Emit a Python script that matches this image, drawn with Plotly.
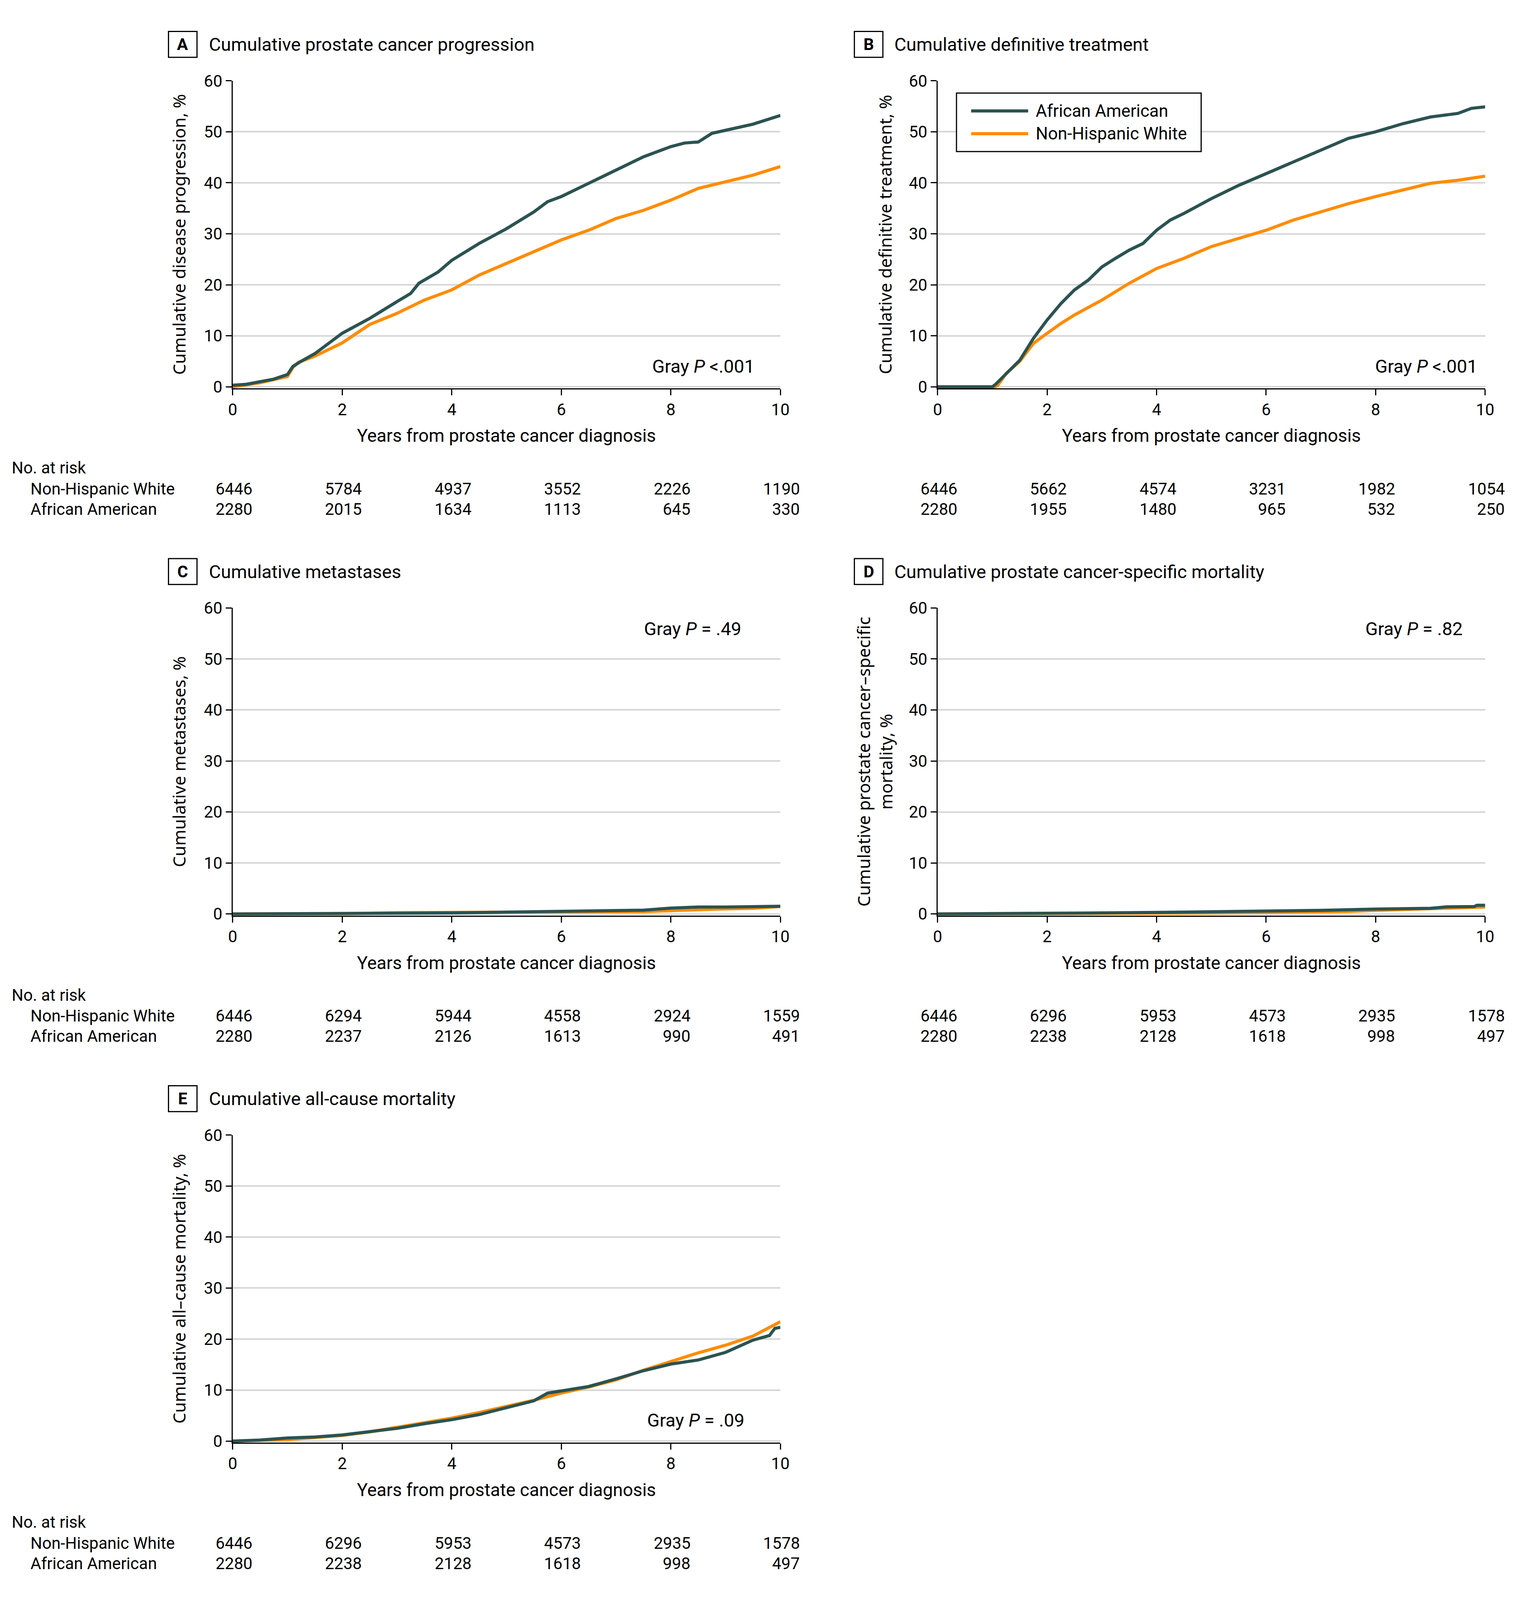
import plotly.graph_objects as go

# layout positions below are measured on the 3892 x 4500 reference;
# the figure itself is sized to fit the visible page area
REF_W, REF_H = 3892, 4500
FIG_W, FIG_H = 3876, 4080

years = [0, 2, 4, 6, 8, 10]
aa_name = "African American"
nhw_name = "Non-Hispanic White"
aa_color = "#2b5351"
nhw_color = "#ff8c00"

# A - cumulative prostate cancer progression
a_aa_t = [0, 0.25, 0.5, 0.75, 1.0, 1.1, 1.25, 1.5, 2, 2.5, 3, 3.25, 3.4, 3.75, 4, 4.25, 4.5, 5, 5.5, 5.75, 6, 6.5, 7, 7.5, 8, 8.25, 8.5, 8.75, 9, 9.5, 10]
a_aa_v = [0.3, 0.5, 1.0, 1.5, 2.4, 4.0, 5.0, 6.5, 10.5, 13.4, 16.7, 18.3, 20.3, 22.5, 24.8, 26.5, 28.1, 31.0, 34.3, 36.3, 37.3, 39.9, 42.5, 45.1, 47.1, 47.8, 48.0, 49.7, 50.3, 51.5, 53.2]
a_nhw_t = [0, 0.5, 1.0, 1.1, 1.2, 1.5, 2, 2.5, 3, 3.5, 4, 4.5, 5, 5.5, 6, 6.5, 7, 7.5, 8, 8.5, 9, 9.5, 10]
a_nhw_v = [0, 0.8, 2.0, 3.8, 4.8, 6.0, 8.6, 12.2, 14.4, 17.0, 19.0, 21.9, 24.2, 26.5, 28.8, 30.7, 33.0, 34.6, 36.6, 38.9, 40.2, 41.5, 43.2]
a_risk_nhw = [6446, 5784, 4937, 3552, 2226, 1190]
a_risk_aa = [2280, 2015, 1634, 1113, 645, 330]

# B - cumulative definitive treatment
b_aa_t = [0, 1.0, 1.05, 1.25, 1.5, 1.75, 2, 2.25, 2.5, 2.75, 3, 3.25, 3.5, 3.75, 4, 4.25, 4.5, 5, 5.5, 6, 6.5, 7, 7.5, 8, 8.5, 9, 9.5, 9.75, 10]
b_aa_v = [0, 0, 0.4, 2.5, 5.2, 9.5, 13.1, 16.3, 19.0, 20.9, 23.5, 25.2, 26.8, 28.1, 30.7, 32.7, 34.0, 36.9, 39.5, 41.8, 44.1, 46.4, 48.7, 50.0, 51.6, 52.9, 53.6, 54.6, 54.9]
b_nhw_t = [0, 1.05, 1.1, 1.25, 1.5, 1.75, 2, 2.25, 2.5, 3, 3.5, 4, 4.5, 5, 5.5, 6, 6.5, 7, 7.5, 8, 8.5, 9, 9.5, 10]
b_nhw_v = [0, 0, 0.3, 2.6, 5.0, 8.5, 10.5, 12.4, 14.1, 17.0, 20.3, 23.2, 25.2, 27.5, 29.1, 30.7, 32.7, 34.3, 35.9, 37.3, 38.6, 39.9, 40.5, 41.3]
b_risk_nhw = [6446, 5662, 4574, 3231, 1982, 1054]
b_risk_aa = [2280, 1955, 1480, 965, 532, 250]

# C - cumulative metastases
c_aa_t = [0, 2, 3, 4, 5, 6, 7, 7.5, 8, 8.5, 9, 9.5, 10]
c_aa_v = [0, 0.07, 0.15, 0.2, 0.35, 0.5, 0.6, 0.75, 1.15, 1.35, 1.35, 1.5, 1.5]
c_nhw_t = [0, 2, 3, 4, 5, 6, 7, 7.5, 8, 8.5, 9, 9.5, 10]
c_nhw_v = [0, 0.05, 0.25, 0.3, 0.3, 0.35, 0.4, 0.45, 0.65, 0.9, 1.0, 1.1, 1.45]
c_risk_nhw = [6446, 6294, 5944, 4558, 2924, 1559]
c_risk_aa = [2280, 2237, 2126, 1613, 990, 491]

# D - cumulative prostate cancer-specific mortality
d_aa_t = [0, 1.5, 2, 3, 4, 5, 6, 7, 8, 9, 9.3, 9.8, 9.85, 10]
d_aa_v = [0, 0.05, 0.1, 0.2, 0.3, 0.4, 0.55, 0.7, 0.95, 1.1, 1.4, 1.45, 1.7, 1.7]
d_nhw_t = [0, 3, 4, 5, 6, 7, 7.5, 8, 9, 9.3, 10]
d_nhw_v = [0, 0.05, 0.1, 0.2, 0.3, 0.4, 0.5, 0.7, 1.0, 1.2, 1.35]
d_risk_nhw = [6446, 6296, 5953, 4573, 2935, 1578]
d_risk_aa = [2280, 2238, 2128, 1618, 998, 497]

# E - cumulative all-cause mortality
e_aa_t = [0, 0.5, 1, 1.5, 2, 2.5, 3, 3.5, 4, 4.5, 5, 5.5, 5.75, 6, 6.5, 7, 7.5, 8, 8.5, 9, 9.5, 9.8, 9.9, 10]
e_aa_v = [0, 0.2, 0.6, 0.8, 1.2, 1.9, 2.5, 3.4, 4.2, 5.2, 6.5, 7.9, 9.4, 9.8, 10.7, 12.2, 13.8, 15.1, 15.9, 17.4, 19.8, 20.7, 22.1, 22.3]
e_nhw_t = [0, 0.5, 1, 1.5, 2, 2.5, 3, 3.5, 4, 4.5, 5, 5.5, 6, 6.5, 7, 7.5, 8, 8.5, 9, 9.5, 10]
e_nhw_v = [0, 0.1, 0.3, 0.7, 1.1, 1.8, 2.7, 3.6, 4.5, 5.6, 6.8, 8.0, 9.4, 10.6, 12.0, 13.9, 15.6, 17.3, 18.8, 20.6, 23.4]
e_risk_nhw = [6446, 6296, 5953, 4573, 2935, 1578]
e_risk_aa = [2280, 2238, 2128, 1618, 998, 497]

panels = [
    dict(letter="A", title="Cumulative prostate cancer progression",
         ytitle="Cumulative disease progression, %", pval="Gray <i>P</i> <.001",
         px=9.54, py=4.0, aa=(a_aa_t, a_aa_v), nhw=(a_nhw_t, a_nhw_v),
         risk=(a_risk_nhw, a_risk_aa), col=0, row=0, ytx=444),
    dict(letter="B", title="Cumulative definitive treatment",
         ytitle="Cumulative definitive treatment, %", pval="Gray <i>P</i> <.001",
         px=9.87, py=4.0, aa=(b_aa_t, b_aa_v), nhw=(b_nhw_t, b_nhw_v),
         risk=(b_risk_nhw, b_risk_aa), col=1, row=0, ytx=2277),
    dict(letter="C", title="Cumulative metastases",
         ytitle="Cumulative metastases, %", pval="Gray <i>P</i> = .49",
         px=9.30, py=55.9, aa=(c_aa_t, c_aa_v), nhw=(c_nhw_t, c_nhw_v),
         risk=(c_risk_nhw, c_risk_aa), col=0, row=1, ytx=444),
    dict(letter="D", title="Cumulative prostate cancer-specific mortality",
         ytitle="Cumulative prostate cancer–specific<br>mortality, %", pval="Gray <i>P</i> = .82",
         px=9.6, py=55.9, aa=(d_aa_t, d_aa_v), nhw=(d_nhw_t, d_nhw_v),
         risk=(d_risk_nhw, d_risk_aa), col=1, row=1, ytx=2250),
    dict(letter="E", title="Cumulative all-cause mortality",
         ytitle="Cumulative all–cause mortality, %", pval="Gray <i>P</i> = .09",
         px=9.36, py=4.1, aa=(e_aa_t, e_aa_v), nhw=(e_nhw_t, e_nhw_v),
         risk=(e_risk_nhw, e_risk_aa), col=0, row=2, ytx=444),
]

FONT = "Roboto, Liberation Sans, sans-serif"
YFONT = "Noto Sans, DejaVu Sans, sans-serif"


def fx(x):
    return x / REF_W


def fy(y):
    return 1 - y / REF_H


col_x = [(583.5, 2005.0), (2413.0, 3834.0)]
box_x = [417, 2197]
title_x = [520, 2299]

fig = go.Figure()
shapes = []
annotations = []
layout = {}

for i, p in enumerate(panels):
    n = "" if i == 0 else str(i + 1)
    xa, ya = "x" + n, "y" + n
    x0, x1 = col_x[p["col"]]
    top = 195 + 1505 * p["row"]
    bottom = top + 878

    fig.add_trace(go.Scatter(x=p["nhw"][0], y=p["nhw"][1], mode="lines", name=nhw_name,
                             line=dict(color=nhw_color, width=8), xaxis=xa, yaxis=ya,
                             showlegend=False))
    fig.add_trace(go.Scatter(x=p["aa"][0], y=p["aa"][1], mode="lines", name=aa_name,
                             line=dict(color=aa_color, width=8), xaxis=xa, yaxis=ya,
                             showlegend=False))

    layout["xaxis" + n] = dict(
        domain=[fx(x0), fx(x1)], anchor=ya, range=[0, 10], tickvals=years,
        showline=True, linecolor="black", linewidth=3, ticks="outside",
        ticklen=15, tickwidth=3, tickcolor="black", showgrid=False, zeroline=False,
        tickfont=dict(size=42, family=FONT, color="black"), layer="below traces")
    layout["yaxis" + n] = dict(
        domain=[fy(bottom), fy(top)], anchor=xa, range=[-0.3, 60], dtick=10,
        showline=True, linecolor="black", linewidth=3, ticks="outside",
        ticklen=15, tickwidth=3, tickcolor="black", showgrid=True,
        gridcolor="#d6d6d6", gridwidth=4, zeroline=False,
        tickfont=dict(size=42, family=FONT, color="black"))

    # panel letter box and title
    bx = box_x[p["col"]]
    shapes.append(dict(type="rect", xref="paper", yref="paper",
                       x0=fx(bx), x1=fx(bx + 74), y0=fy(top - 67), y1=fy(top - 141),
                       line=dict(color="black", width=3)))
    annotations.append(dict(text="<b>" + p["letter"] + "</b>", xref="paper", yref="paper",
                            x=fx(bx + 37), y=fy(top - 104), xanchor="center", yanchor="middle",
                            showarrow=False, font=dict(size=42, family=FONT)))
    annotations.append(dict(text=p["title"], xref="paper", yref="paper",
                            x=fx(title_x[p["col"]]), y=fy(top - 104), xanchor="left",
                            yanchor="middle", showarrow=False, font=dict(size=47, family=FONT)))

    # y title
    annotations.append(dict(text=p["ytitle"], xref="paper", yref="paper",
                            x=fx(p["ytx"]), y=fy((top + bottom) / 2), textangle=-90,
                            xanchor="center", yanchor="middle", showarrow=False,
                            font=dict(size=44, family=YFONT)))
    # x title
    annotations.append(dict(text="Years from prostate cancer diagnosis", xref="paper", yref="paper",
                            x=fx((x0 + x1) / 2), y=fy(bottom + 135), xanchor="center",
                            yanchor="middle", showarrow=False, font=dict(size=46, family=FONT)))
    # p value
    annotations.append(dict(text=p["pval"], xref=xa, yref=ya, x=p["px"], y=p["py"],
                            xanchor="right", yanchor="middle", showarrow=False,
                            font=dict(size=47, family=FONT)))

    # number at risk
    if p["col"] == 0:
        annotations.append(dict(text="No. at risk", xref="paper", yref="paper",
                                x=fx(8), y=fy(bottom + 227), xanchor="left", yanchor="middle",
                                showarrow=False, font=dict(size=42, family=FONT)))
        for lab, dy in [(nhw_name, 287), (aa_name, 345)]:
            annotations.append(dict(text=lab, xref="paper", yref="paper",
                                    x=fx(57), y=fy(bottom + dy), xanchor="left", yanchor="middle",
                                    showarrow=False, font=dict(size=42, family=FONT)))
    for counts, dy in [(p["risk"][0], 287), (p["risk"][1], 345)]:
        for yr, c in zip(years, counts):
            annotations.append(dict(text=str(c), xref=xa, yref="paper", x=yr,
                                    y=fy(bottom + dy), xanchor="right", yanchor="middle",
                                    xshift=52, showarrow=False, font=dict(size=42, family=FONT)))

# legend drawn in panel B
shapes.append(dict(type="rect", xref="paper", yref="paper", x0=fx(2462), x1=fx(3097),
                   y0=fy(230), y1=fy(397), line=dict(color="black", width=3),
                   fillcolor="white", layer="above"))
for lab, colr, ly in [(aa_name, aa_color, 281), (nhw_name, nhw_color, 346)]:
    shapes.append(dict(type="line", xref="paper", yref="paper", x0=fx(2500), x1=fx(2648),
                       y0=fy(ly), y1=fy(ly), line=dict(color=colr, width=8), layer="above"))
    annotations.append(dict(text=lab, xref="paper", yref="paper", x=fx(2666), y=fy(ly),
                            xanchor="left", yanchor="middle", showarrow=False,
                            font=dict(size=44, family=FONT)))

fig.update_layout(
    width=FIG_W, height=FIG_H, autosize=False,
    margin=dict(l=0, r=0, t=0, b=0),
    paper_bgcolor="white", plot_bgcolor="white",
    font=dict(family=FONT, color="black", size=42),
    shapes=shapes, annotations=annotations, showlegend=False,
    hovermode=False,
    **layout)

fig.write_html("out.html", config={"displayModeBar": False})
